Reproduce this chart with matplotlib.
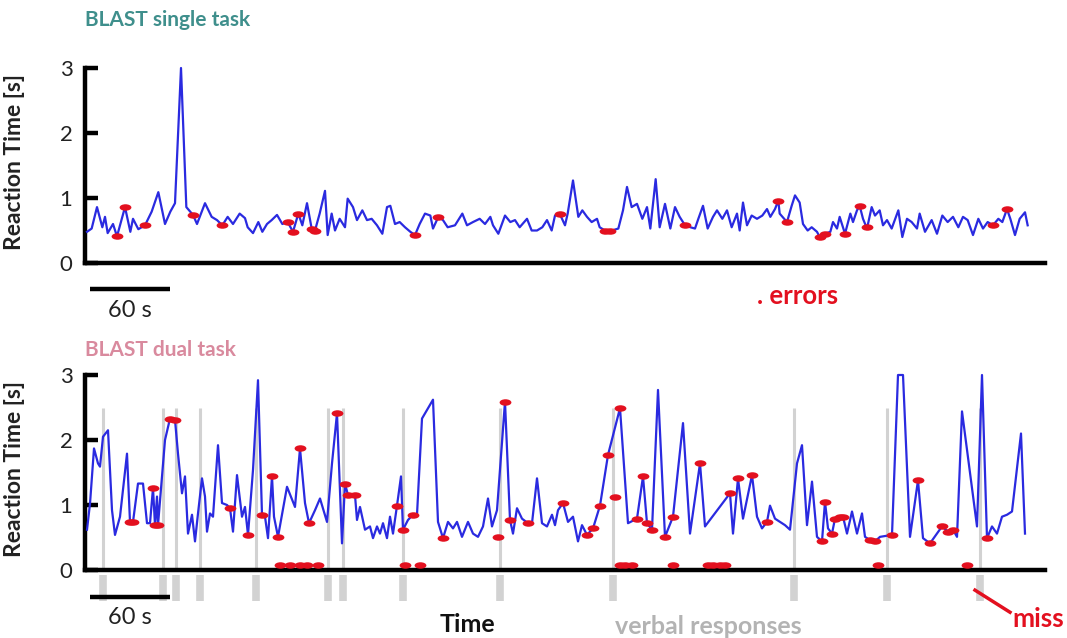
import matplotlib
matplotlib.use("Agg")
import matplotlib.pyplot as plt
import matplotlib.path as mpath
from matplotlib.transforms import Affine2D

plt.rcParams['font.family'] = ['Lato', 'DejaVu Sans']

# ---------------- data: single task ----------------
single_t = [1.5, 5, 9, 13, 15, 17, 21, 24, 30, 34, 36, 40, 45, 50, 55, 60, 64, 67.5, 72, 76,
            81, 84, 90, 95, 99, 103, 107, 111, 116, 120, 122, 126, 130, 133, 136.5, 140, 144, 148,
            152, 156, 160, 163, 166.5, 170, 172.5, 176, 180, 182, 185, 187.5, 191, 195, 197, 201,
            204, 208, 211.5, 215, 219, 223, 226.5, 229, 232.5, 236, 240, 244, 247.5, 251, 255, 259,
            261, 265, 268.5, 272, 277.5, 283, 286.5, 291, 296, 300, 304, 306, 310, 315, 319, 322.5,
            326, 331.5, 335, 339, 343, 346.5, 350, 352.5, 356, 360, 362, 366, 370, 373, 376.5, 380,
            384, 386, 390, 395, 400, 403.5, 406.5, 410, 414, 418, 421.5, 424, 428, 431, 435, 439,
            442.5, 446, 450, 454, 457.5, 460, 463.5, 467, 471, 474, 478, 481.5, 485, 489, 491, 493.5,
            496.5, 500, 504, 508, 511.5, 514, 517.5, 520, 521, 526.5, 530, 532.5, 536, 538.5, 542,
            545, 549, 551, 555, 559, 561, 564, 566, 570, 574, 576, 579, 581, 583.5, 586.5, 590, 592.5,
            596, 598.5, 601.5, 605, 610, 613, 616.5, 620, 624, 626, 630, 635, 639, 643, 647, 651,
            655, 658.5, 662, 666, 670, 673.5, 677, 681, 685, 688, 691.5, 694, 697.5, 701, 705, 707]
single_rt = [0.48, 0.53, 0.86, 0.55, 0.71, 0.46, 0.60, 0.41, 0.86, 0.48, 0.68, 0.52, 0.58, 0.79, 1.09, 0.60, 0.79, 0.92, 3.00, 0.86,
             0.74, 0.60, 0.92, 0.71, 0.66, 0.58, 0.71, 0.60, 0.76, 0.69, 0.55, 0.46, 0.63, 0.48, 0.60, 0.66, 0.74, 0.60,
             0.63, 0.48, 0.76, 0.58, 0.92, 0.53, 0.50, 0.76, 1.11, 0.43, 0.76, 0.50, 0.68, 0.55, 0.99, 0.86,
             0.66, 0.81, 0.66, 0.68, 0.58, 0.45, 0.86, 0.88, 0.60, 0.63, 0.55, 0.48, 0.43, 0.60, 0.76, 0.73,
             0.53, 0.71, 0.66, 0.55, 0.58, 0.76, 0.58, 0.63, 0.68, 0.60, 0.71, 0.58, 0.45, 0.73, 0.63, 0.66,
             0.55, 0.68, 0.50, 0.50, 0.55, 0.66, 0.50, 0.73, 0.76, 0.58, 0.76, 1.27, 0.71, 0.81, 0.71, 0.63,
             0.68, 0.55, 0.50, 0.50, 0.53, 0.81, 1.17, 0.86, 0.91, 0.68, 0.86, 0.53, 1.29, 0.55, 0.91, 0.53,
             0.86, 0.71, 0.58, 0.55, 0.53, 0.68, 0.88, 0.53, 0.71, 0.81, 0.68, 0.81, 0.55, 0.76, 0.50, 0.93,
             0.58, 0.73, 0.68, 0.73, 0.83, 0.71, 0.83, 0.96, 0.76, 0.63, 0.88, 1.04, 0.93, 0.60, 0.50,
             0.55, 0.48, 0.40, 0.45, 0.48, 0.63, 0.53, 0.71, 0.45, 0.76, 0.63, 0.81, 0.88, 0.68, 0.53, 0.86, 0.73,
             0.81, 0.58, 0.66, 0.53, 0.81, 0.40, 0.68, 0.63, 0.53, 0.76, 0.48, 0.66, 0.45, 0.73, 0.63, 0.71,
             0.55, 0.71, 0.66, 0.43, 0.68, 0.53, 0.63, 0.58, 0.68, 0.63, 0.83, 0.68, 0.43, 0.68, 0.78, 0.58]

single_err_t = [24, 30, 45, 81, 103, 152, 156, 160, 170, 172.5, 247.5, 265, 356, 390, 394, 450,
                520, 526.5, 551, 555, 570, 581, 586.5, 681, 691.5]
single_err_rt = [0.41, 0.86, 0.58, 0.74, 0.58, 0.63, 0.48, 0.76, 0.53, 0.50, 0.43, 0.71, 0.76, 0.50, 0.50, 0.58,
                 0.96, 0.63, 0.40, 0.45, 0.45, 0.88, 0.55, 0.58, 0.83]

# ---------------- data: dual task ----------------
dual_t = [1.5, 3.75, 6.75, 9.75, 11.25, 13.5, 17.25, 20.25, 22.5, 26.25, 31.5, 33.75, 36, 39.75, 43.5,
          46.5, 48.75, 51, 52.5, 54, 54.75, 60, 63.75, 67.5, 69.75, 72.75, 75, 77.25, 80.25, 82.5, 84.75,
          87.75, 90, 91.5, 93.75, 96, 99.75, 102.75, 106.5, 108.75, 111, 114, 117.75, 120, 122.25, 126,
          129.75, 132.75, 135, 137.25, 140.25, 141.75, 144.75, 151.5, 157.5, 161.25, 165, 168, 172.5,
          176.25, 181.5, 185.25, 189, 192.75, 195, 197.25, 202.5, 204, 206.25, 210, 213.75, 216, 219,
          221.25, 223.5, 226.5, 228.75, 231, 234, 237, 238.5, 242.25, 246, 249, 252.75, 261, 264.75,
          268.5, 272.25, 276, 279, 282.75, 287.25, 291, 294.75, 298.5, 302.25, 305.25, 309, 315,
          318.75, 321, 324, 327.75, 332.25, 335.25, 339, 342.75, 346.5, 350.25, 352.5, 354.75, 358.5,
          362.25, 366, 369.75, 372.75, 376.5, 381, 386.25, 392.25, 401.25, 407.25, 414, 418.5, 421.5,
          425.25, 429.75, 435, 441, 448.5, 453.75, 461.25, 465, 483.75, 486, 489.75, 493.5, 500.25,
          504, 507.75, 511.5, 513.75, 517.5, 521.25, 525, 528.75, 534, 537.75, 541.5, 545.25, 549,
          552.75, 555, 557.25, 560.25, 562.5, 566.25, 568.5, 571.5, 575.25, 579, 582.75, 585, 588.75,
          592.5, 596.25, 605.25, 609.75, 613.5, 618.75, 624.75, 628.5, 633.75, 639, 642.75, 647.25,
          651, 654, 657.75, 669, 672.75, 676.5, 680.25, 684, 687.75, 691.5, 695.25, 702, 705]
dual_rt = [0.62, 1.02, 1.87, 1.64, 1.59, 2.05, 2.15, 0.92, 0.54, 0.82, 1.79, 0.74, 0.74, 1.33, 1.33,
           0.72, 0.72, 1.26, 0.69, 1.13, 0.69, 2.00, 2.33, 2.31, 1.79, 1.18, 1.44, 0.56, 0.85, 0.44, 0.87,
           1.41, 1.13, 0.59, 0.87, 0.82, 1.92, 1.03, 1.00, 0.95, 0.59, 1.46, 0.82, 0.97, 0.54, 1.54,
           2.92, 0.85, 0.82, 0.49, 1.44, 0.82, 0.51, 1.28, 0.97, 1.87, 1.03, 0.72, 0.92,
           1.10, 0.74, 1.64, 2.41, 0.41, 1.33, 1.15, 1.15, 0.77, 0.97, 0.62, 0.67, 0.49, 0.67,
           0.56, 0.72, 0.49, 0.82, 0.56, 0.99, 1.44, 0.62, 0.77, 0.85, 0.85, 2.33, 2.62, 0.74,
           0.49, 0.74, 0.64, 0.74, 0.51, 0.74, 0.56, 0.51, 0.67, 1.10, 0.67, 0.92, 2.59,
           0.77, 0.56, 0.95, 0.79, 0.72, 0.72, 1.41, 0.72, 0.67, 0.85, 0.69, 0.92, 1.03,
           0.74, 0.82, 0.44, 0.69, 0.54, 0.64, 0.99, 1.77, 2.49, 0.72, 0.79, 1.44, 0.72,
           0.62, 2.77, 0.51, 0.82, 2.26, 0.56, 1.64, 0.67, 1.18, 0.56, 1.41, 0.79, 1.46,
           0.82, 0.64, 0.74, 0.99, 0.79, 0.74, 0.69, 0.62, 1.64, 1.92, 0.69, 1.36, 0.51,
           0.44, 1.05, 0.64, 0.56, 0.79, 0.82, 0.82, 0.56, 0.90, 0.56, 0.87, 0.51, 0.46,
           0.44, 0.51, 0.54, 3.00, 3.00, 0.51, 1.38, 0.49, 0.41, 0.56, 0.67, 0.59,
           0.62, 0.51, 2.44, 0.67, 3.00, 0.49, 0.67, 0.56, 0.82, 0.85, 0.90, 2.10, 0.56]

dual_err_t = [33.75, 36, 51, 52.5, 54.75, 63.75, 67.5, 108.75, 122.25, 132.75, 140.25, 144.75, 161.25,
              168, 189, 195, 197.25, 202.5, 234, 238.5, 246, 268.5, 309.75, 315, 318.75, 332.25, 358.5,
              376.5, 381, 386.25, 392.25, 397.5, 401.25, 414, 418.5, 421.5, 425.25, 435, 441, 461.25,
              483.75, 489.75, 500.25, 511.5, 552.75, 555, 560.25, 562.5, 566.25, 568.5, 588.75, 592.5,
              605.25, 624.75, 633.75, 642.75, 647.25, 651, 676.5]
dual_err_rt = [0.74, 0.74, 1.26, 0.69, 0.69, 2.33, 2.31, 0.95, 0.54, 0.85, 1.44, 0.51, 1.87,
               0.72, 2.41, 1.33, 1.15, 1.15, 0.99, 0.62, 0.85, 0.49, 0.51, 2.59, 0.77, 0.72, 1.03,
               0.54, 0.64, 0.99, 1.77, 1.13, 2.49, 0.79, 1.44, 0.72, 0.62, 0.51, 0.82, 1.64,
               1.18, 1.41, 1.46, 0.74, 0.44, 1.05, 0.56, 0.79, 0.82, 0.82, 0.46, 0.44,
               0.54, 1.38, 0.41, 0.67, 0.59, 0.62, 0.49]

miss_t = [146.25, 153.75, 161.25, 166.5, 174.75, 240, 251.25, 401.25, 405, 410.25, 441,
          467.25, 471, 476.25, 480, 594.75, 661.5]
miss_rt = [0.07] * len(miss_t)

verbal_t = [13.5, 58.5, 68.25, 86.25, 128.25, 182.25, 193.5, 238.5, 311.25, 396, 531.75, 601.5, 671.25]

y_ticks = [0, 1, 2, 3]
y_ticklabels = ["0", "1", "2", "3"]

# ---------------- styling ----------------
W, H = 1067, 638
fig = plt.figure(figsize=(W / 100, H / 100), dpi=100)
BLUE = '#2a2ae0'
RED = '#e3101f'
GRAY = '#d2d2d2'

ell = mpath.Path.unit_circle().transformed(Affine2D().scale(1.0, 0.55))

def px(x0, y0, w, h):
    return [x0 / W, 1 - (y0 + h) / H, w / W, h / H]

ax1 = fig.add_axes(px(85, 68, 960, 195))
ax2 = fig.add_axes(px(85, 375, 960, 195))

for ax in (ax1, ax2):
    ax.set_xlim(0, 720)
    ax.set_ylim(0, 3)
    for s in ('top', 'right'):
        ax.spines[s].set_visible(False)
    ax.spines['left'].set_linewidth(3.2)
    ax.spines['bottom'].set_linewidth(3.2)
    ax.spines['left'].set_bounds(0, 3)
    ax.set_xticks([])
    ax.set_yticks(y_ticks)
    ax.set_yticklabels(y_ticklabels)
    ax.tick_params(axis='y', direction='in', length=9, width=3.2, labelsize=16, pad=9,
                   labelcolor='#222222')
    ax.set_ylabel('Reaction Time [s]', fontsize=16.5, fontweight='bold', color='#222222')
    ax.yaxis.set_label_coords(-0.063, 0.52)

# single task
ax1.plot(single_t, single_rt, color=BLUE, lw=1.6, zorder=3, clip_on=False)
ax1.plot(single_err_t, single_err_rt, ls='none', marker=ell, ms=8.5, color=RED, mec='none', zorder=4, clip_on=False)
ax1.plot([3.75, 63.75], [-0.4, -0.4], color='black', lw=3.2, clip_on=False, solid_capstyle='butt')

# dual task
ax2.vlines(verbal_t, 0.0, 2.5, color=GRAY, lw=2.2, zorder=1, clip_on=False)
ax2.vlines(verbal_t, -0.08, -0.48, color=GRAY, lw=5.5, zorder=1, clip_on=False)
ax2.plot(dual_t, dual_rt, color=BLUE, lw=1.6, zorder=3, clip_on=False)
ax2.plot(dual_err_t, dual_err_rt, ls='none', marker=ell, ms=8.5, color=RED, mec='none', zorder=4, clip_on=False)
ax2.plot(miss_t, miss_rt, ls='none', marker=ell, ms=8.5, color=RED, mec='none', zorder=4, clip_on=False)
ax2.plot([3.75, 63.75], [-0.41, -0.41], color='black', lw=3.2, clip_on=False, solid_capstyle='butt')
ax2.plot([667.5, 693.75], [-0.31, -0.65], color=RED, lw=2.5, clip_on=False)

# texts
fig.text(85 / W, 1 - 20 / H, 'BLAST single task', fontsize=15, fontweight='bold', color='#3f8f8c', va='center', ha='left')
fig.text(85 / W, 1 - 350 / H, 'BLAST dual task', fontsize=15, fontweight='bold', color='#d98a9e', va='center', ha='left')
fig.text(130 / W, 1 - 311 / H, '60 s', fontsize=17, color='#222222', va='center', ha='center')
fig.text(130 / W, 1 - 618 / H, '60 s', fontsize=17, color='#222222', va='center', ha='center')
fig.text(757 / W, 1 - 296 / H, '. errors', fontsize=18.5, fontweight='bold', color=RED, va='center', ha='left')
fig.text(467 / W, 1 - 625 / H, 'Time', fontsize=18, fontweight='bold', color='#111111', va='center', ha='center')
fig.text(615 / W, 1 - 627 / H, 'verbal responses', fontsize=18, fontweight='bold', color='#b3b3b3', va='center', ha='left')
fig.text(1012 / W, 1 - 619 / H, 'miss', fontsize=19, fontweight='bold', color=RED, va='center', ha='left')

fig.savefig('out.png', dpi=100)
